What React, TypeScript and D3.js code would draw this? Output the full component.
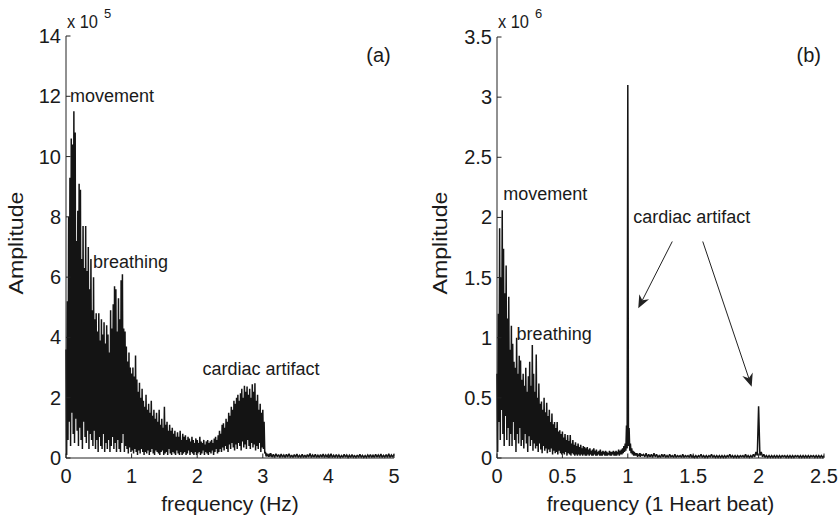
import React from "react";
import * as d3 from "d3";

// ---------- panel (a): spectrum in Hz, amplitude x 1e5 ----------
const xTicksA = [0, 1, 2, 3, 4, 5];
const yTicksA = [0, 2, 4, 6, 8, 10, 12, 14];

// dense part, f = 0.00 .. 3.10 every 0.02 Hz (peaks and troughs)
const upperA = [
  3.6, 5.2, 8.0, 9.3, 10.6, 10.4, 11.5, 10.8, 7.2, 8.2,
  9.1, 8.9, 6.6, 7.7, 6.3, 7.7, 6.2, 7.0, 5.6, 6.6,
  4.9, 6.0, 4.6, 4.8, 4.2, 4.8, 3.9, 4.6, 4.1, 4.5,
  3.8, 4.4, 4.1, 3.5, 4.9, 4.3, 5.1, 5.7, 5.6, 4.2,
  5.3, 4.6, 5.9, 6.1, 4.3, 4.2, 3.7, 3.2, 3.5, 3.0,
  2.8, 3.0, 2.7, 3.4, 2.6, 2.2, 2.5, 2.0, 2.3, 1.9,
  1.7, 2.1, 1.6, 1.8, 1.5, 1.9, 1.4, 1.6, 1.3, 1.5,
  1.2, 1.6, 1.1, 1.3, 1.0, 1.7, 1.1, 1.2, 0.9, 1.1,
  0.9, 1.0, 0.8, 0.9, 0.7, 0.85, 0.7, 0.9, 0.6, 0.8,
  0.7, 0.75, 0.6, 0.7, 0.65, 0.55, 0.7, 0.6, 0.5, 0.65,
  0.6, 0.5, 0.7, 0.55, 0.5, 0.6, 0.45, 0.55, 0.6, 0.5,
  0.55, 0.6, 0.5, 0.65, 0.7, 0.6, 0.75, 0.9, 0.8, 1.1,
  1.15, 1.0, 1.3, 1.2, 1.5, 1.4, 1.7, 1.6, 1.9, 1.8,
  2.0, 2.1, 1.9, 2.15, 2.3, 2.0, 2.4, 2.2, 2.37, 2.1,
  2.3, 2.0, 2.45, 2.2, 2.48, 1.9, 2.1, 1.6, 1.8, 1.5,
  1.6, 1.2, 0.2, 0.15, 0.12, 0.14,
];
const lowerA = [
  0.1, 0.6, 1.2, 0.4, 1.5, 0.8, 0.5, 1.3, 0.9, 0.4,
  1.0, 0.6, 0.3, 1.2, 0.7, 0.5, 0.9, 0.3, 0.8, 0.6,
  0.4, 0.9, 0.3, 0.6, 0.2, 0.7, 0.4, 0.3, 0.8, 0.2,
  0.5, 0.3, 0.6, 0.2, 0.4, 0.7, 0.3, 0.5, 0.2, 0.6,
  0.3, 0.2, 0.5, 0.8, 0.2, 0.4, 0.3, 0.15, 0.35, 0.2,
  0.25, 0.15, 0.3, 0.2, 0.1, 0.25, 0.15, 0.3, 0.2, 0.1,
  0.2, 0.15, 0.25, 0.1, 0.2, 0.3, 0.15, 0.1, 0.25, 0.2,
  0.15, 0.1, 0.2, 0.25, 0.1, 0.15, 0.2, 0.1, 0.3, 0.15,
  0.1, 0.2, 0.15, 0.1, 0.25, 0.15, 0.1, 0.2, 0.1, 0.15,
  0.2, 0.1, 0.15, 0.25, 0.1, 0.2, 0.15, 0.1, 0.2, 0.1,
  0.15, 0.2, 0.1, 0.15, 0.25, 0.1, 0.2, 0.15, 0.1, 0.2,
  0.15, 0.25, 0.1, 0.2, 0.3, 0.15, 0.2, 0.3, 0.2, 0.35,
  0.25, 0.4, 0.3, 0.2, 0.45, 0.3, 0.5, 0.35, 0.25, 0.45,
  0.3, 0.5, 0.4, 0.25, 0.55, 0.35, 0.45, 0.3, 0.6, 0.4,
  0.3, 0.5, 0.35, 0.45, 0.25, 0.4, 0.3, 0.5, 0.2, 0.35,
  0.3, 0.15, 0.05, 0.06, 0.04, 0.05,
];
// flat tail, f = 3.12 .. 5.00 every 0.04 Hz
const tailUpperA = [
  0.16, 0.12, 0.14, 0.11, 0.13, 0.1, 0.12, 0.14,
  0.1, 0.11, 0.13, 0.09, 0.12, 0.1, 0.11, 0.15,
  0.1, 0.12, 0.09, 0.11, 0.13, 0.1, 0.12, 0.14,
  0.09, 0.11, 0.1, 0.08, 0.12, 0.1, 0.09, 0.11,
  0.08, 0.1, 0.12, 0.09, 0.08, 0.1, 0.11, 0.09,
  0.12, 0.1, 0.13, 0.09, 0.11, 0.14, 0.1, 0.12,
];
const tailLowerA = [
  0.03, 0.02, 0.04, 0.02, 0.03, 0.02, 0.03, 0.02,
  0.02, 0.03, 0.02, 0.03, 0.02, 0.02, 0.03, 0.02,
  0.03, 0.02, 0.02, 0.03, 0.02, 0.03, 0.02, 0.02,
  0.02, 0.03, 0.02, 0.02, 0.03, 0.02, 0.02, 0.03,
  0.02, 0.02, 0.03, 0.02, 0.02, 0.03, 0.02, 0.02,
  0.03, 0.02, 0.02, 0.03, 0.02, 0.02, 0.03, 0.02,
];

// ---------- panel (b): normalised to heart beat, amplitude x 1e6 ----------
const xTicksB = [0, 0.5, 1, 1.5, 2, 2.5];
const yTicksB = [0, 0.5, 1, 1.5, 2, 2.5, 3, 3.5];

// dense part, f = 0.00 .. 1.10 every 0.01
const upperB = [
  0.7, 1.2, 1.91, 1.5, 2.06, 1.74, 1.37, 1.6, 1.16, 1.34,
  0.9, 1.1, 0.95, 0.8, 0.75, 1.0, 0.7, 0.85, 0.81, 0.65,
  0.7, 0.6, 0.75, 0.55, 0.68, 0.8, 0.6, 0.94, 0.7, 0.55,
  0.86, 0.5, 0.62, 0.45, 0.47, 0.4, 0.5, 0.38, 0.46, 0.35,
  0.4, 0.3, 0.37, 0.28, 0.3, 0.25, 0.3, 0.22, 0.23, 0.2,
  0.22, 0.17, 0.2, 0.15, 0.19, 0.14, 0.19, 0.12, 0.15, 0.11,
  0.13, 0.1, 0.12, 0.09, 0.11, 0.08, 0.1, 0.09, 0.08, 0.09,
  0.07, 0.08, 0.06, 0.07, 0.08, 0.06, 0.07, 0.05, 0.06, 0.07,
  0.05, 0.06, 0.05, 0.06, 0.05, 0.04, 0.06, 0.05, 0.05, 0.06,
  0.05, 0.06, 0.05, 0.07, 0.06, 0.07, 0.08, 0.1, 0.12, 0.27,
  3.1, 0.25, 0.12, 0.08, 0.06, 0.05, 0.04, 0.04, 0.03, 0.04, 0.03,
];
const lowerB = [
  0.05, 0.3, 0.15, 0.4, 0.2, 0.1, 0.35, 0.15, 0.25, 0.1,
  0.2, 0.1, 0.3, 0.15, 0.05, 0.2, 0.12, 0.25, 0.1, 0.15,
  0.08, 0.2, 0.12, 0.05, 0.18, 0.1, 0.15, 0.06, 0.12, 0.08,
  0.1, 0.05, 0.12, 0.07, 0.04, 0.1, 0.06, 0.08, 0.04, 0.07,
  0.05, 0.08, 0.03, 0.06, 0.04, 0.05, 0.03, 0.06, 0.04, 0.03,
  0.04, 0.03, 0.05, 0.02, 0.04, 0.03, 0.02, 0.04, 0.03, 0.02,
  0.03, 0.02, 0.03, 0.02, 0.03, 0.02, 0.03, 0.02, 0.02, 0.03,
  0.02, 0.03, 0.02, 0.02, 0.03, 0.02, 0.02, 0.03, 0.02, 0.02,
  0.02, 0.03, 0.02, 0.02, 0.02, 0.03, 0.02, 0.02, 0.03, 0.02,
  0.02, 0.02, 0.03, 0.02, 0.03, 0.03, 0.04, 0.05, 0.06, 0.08,
  0.1, 0.06, 0.04, 0.03, 0.02, 0.02, 0.02, 0.01, 0.02, 0.01, 0.02,
];
// tail, f = 1.12 .. 2.50 every 0.02 (second harmonic at 2.00)
const tailUpperB = [
  0.03, 0.04, 0.03, 0.03, 0.04, 0.03, 0.02, 0.03, 0.03, 0.02,
  0.03, 0.02, 0.03, 0.02, 0.02, 0.03, 0.02, 0.02, 0.03, 0.02,
  0.02, 0.02, 0.03, 0.02, 0.02, 0.02, 0.03, 0.02, 0.02, 0.02,
  0.02, 0.02, 0.02, 0.03, 0.02, 0.02, 0.02, 0.02, 0.02, 0.03,
  0.02, 0.02, 0.03, 0.05, 0.43, 0.05, 0.03, 0.02, 0.02, 0.02,
  0.02, 0.02, 0.02, 0.02, 0.02, 0.02, 0.02, 0.02, 0.02, 0.02,
  0.02, 0.02, 0.02, 0.02, 0.02, 0.02, 0.02, 0.02, 0.02, 0.02,
];
const tailLowerB = [
  0.01, 0.005, 0.01, 0.005, 0.01, 0.005, 0.005, 0.01, 0.005, 0.005,
  0.01, 0.005, 0.005, 0.01, 0.005, 0.005, 0.01, 0.005, 0.005, 0.005,
  0.005, 0.01, 0.005, 0.005, 0.005, 0.01, 0.005, 0.005, 0.005, 0.005,
  0.005, 0.005, 0.01, 0.005, 0.005, 0.005, 0.005, 0.01, 0.005, 0.005,
  0.005, 0.005, 0.01, 0.02, 0.02, 0.01, 0.005, 0.005, 0.005, 0.005,
  0.005, 0.005, 0.005, 0.01, 0.005, 0.005, 0.005, 0.005, 0.01, 0.005,
  0.005, 0.005, 0.005, 0.005, 0.01, 0.005, 0.005, 0.005, 0.005, 0.005,
];

const freqA = d3.range(156).map((i) => i * 0.02).concat(d3.range(48).map((i) => 3.12 + i * 0.04));
const freqB = d3.range(111).map((i) => i * 0.01).concat(d3.range(70).map((i) => 1.12 + i * 0.02));

// peak at each grid frequency, trough halfway to the next one
function buildTrace(freqs: number[], upper: number[], lower: number[]) {
  const pts: [number, number][] = [];
  freqs.forEach((f, i) => {
    pts.push([f, upper[i]]);
    if (i < freqs.length - 1) pts.push([(f + freqs[i + 1]) / 2, lower[i]]);
  });
  return pts;
}

const traceA = buildTrace(freqA, upperA.concat(tailUpperA), lowerA.concat(tailLowerA));
const traceB = buildTrace(freqB, upperB.concat(tailUpperB), lowerB.concat(tailLowerB));

const FONT = "'Liberation Sans', Arial, Helvetica, sans-serif";
const INK = "#1a1a1a";

interface Note { text: string; f: number; a: number; anchor?: string; size?: number }
interface Arrow { from: [number, number]; to: [number, number] }

interface PanelProps {
  left: number; right: number; top: number; bottom: number;
  xDomain: [number, number]; yDomain: [number, number];
  xTicks: number[]; yTicks: number[];
  trace: [number, number][];
  exponent: string;
  xLabel: string;
  yLabelX: number;
  notes: Note[];
  arrows?: Arrow[];
}

const Panel: React.FC<PanelProps> = ({
  left, right, top, bottom, xDomain, yDomain, xTicks, yTicks, trace,
  exponent, xLabel, yLabelX, notes, arrows = [],
}) => {
  const x = d3.scaleLinear().domain(xDomain).range([left, right]);
  const y = d3.scaleLinear().domain(yDomain).range([bottom, top]);
  const line = d3.line<[number, number]>().x((d) => x(d[0])).y((d) => y(d[1]));
  const tick = 4.5;

  return (
    <g fontFamily={FONT} fill={INK}>
      <path d={line(trace) || ""} fill="none" stroke="#141414" strokeWidth={1.5} strokeLinejoin="miter" strokeMiterlimit={2} />
      {/* axes, box off */}
      <line x1={left} x2={left} y1={top} y2={bottom} stroke="#222" strokeWidth={1} />
      <line x1={left} x2={right} y1={bottom} y2={bottom} stroke="#222" strokeWidth={1} />
      {yTicks.map((t) => (
        <g key={"y" + t}>
          <line x1={left} x2={left + tick} y1={y(t)} y2={y(t)} stroke="#222" />
          <text x={left - 5} y={y(t)} dy="0.35em" textAnchor="end" fontSize={20}>{t}</text>
        </g>
      ))}
      {xTicks.map((t) => (
        <g key={"x" + t}>
          <line x1={x(t)} x2={x(t)} y1={bottom} y2={bottom - tick} stroke="#222" />
          <text x={x(t)} y={bottom + 25} textAnchor="middle" fontSize={20}>{t}</text>
        </g>
      ))}
      <text x={left + 1} y={28} fontSize={18} textLength={31} lengthAdjust="spacingAndGlyphs">x 10</text>
      <text x={left + 38} y={18} fontSize={13}>{exponent}</text>
      <text x={(left + right) / 2} y={511} textAnchor="middle" fontSize={21}>{xLabel}</text>
      <text
        transform={`translate(${yLabelX},243) rotate(-90)`}
        textAnchor="middle"
        fontSize={21}
        textLength={103}
        lengthAdjust="spacingAndGlyphs"
      >
        Amplitude
      </text>
      {notes.map((n) => (
        <text key={n.text} x={x(n.f)} y={y(n.a)} fontSize={n.size ?? 18} textAnchor={n.anchor ?? "start"}>
          {n.text}
        </text>
      ))}
      {arrows.map((a, i) => {
        const x0 = x(a.from[0]), y0 = y(a.from[1]);
        const x1 = x(a.to[0]), y1 = y(a.to[1]);
        const ang = Math.atan2(y1 - y0, x1 - x0);
        const L = 13, Wd = 5.5, notch = 9;
        const ux = Math.cos(ang), uy = Math.sin(ang);
        const px = -uy, py = ux;
        const bx = x1 - ux * L, by = y1 - uy * L;
        const nx = x1 - ux * notch, ny = y1 - uy * notch;
        const head = `M${x1},${y1}L${bx + px * Wd},${by + py * Wd}L${nx},${ny}L${bx - px * Wd},${by - py * Wd}Z`;
        return (
          <g key={"arr" + i}>
            <line x1={x0} y1={y0} x2={nx} y2={ny} stroke="#222" strokeWidth={1} />
            <path d={head} fill="#222" stroke="none" />
          </g>
        );
      })}
    </g>
  );
};

export default function App() {
  return (
    <svg width={840} height={523} style={{ position: "absolute", left: 0, top: 0, background: "#fff" }}>
      <Panel
        left={66} right={394} top={36} bottom={458}
        xDomain={[0, 5]} yDomain={[0, 14]}
        xTicks={xTicksA} yTicks={yTicksA}
        trace={traceA}
        exponent="5"
        xLabel="frequency (Hz)"
        yLabelX={22.5}
        notes={[
          { text: "movement", f: 0.06, a: 11.81 },
          { text: "breathing", f: 0.41, a: 6.3 },
          { text: "cardiac artifact", f: 2.08, a: 2.75 },
          { text: "(a)", f: 4.95, a: 13.14, anchor: "end", size: 20 },
        ]}
      />
      <Panel
        left={497} right={824} top={37} bottom={458}
        xDomain={[0, 2.5]} yDomain={[0, 3.5]}
        xTicks={xTicksB} yTicks={yTicksB}
        trace={traceB}
        exponent="6"
        xLabel="frequency (1 Heart beat)"
        yLabelX={447}
        notes={[
          { text: "movement", f: 0.048, a: 2.145 },
          { text: "breathing", f: 0.15, a: 0.98 },
          { text: "cardiac artifact", f: 1.042, a: 1.953 },
          { text: "(b)", f: 2.477, a: 3.29, anchor: "end", size: 20 },
        ]}
        arrows={[
          { from: [1.34, 1.8], to: [1.08, 1.245] },
          { from: [1.573, 1.8], to: [1.947, 0.593] },
        ]}
      />
    </svg>
  );
}
